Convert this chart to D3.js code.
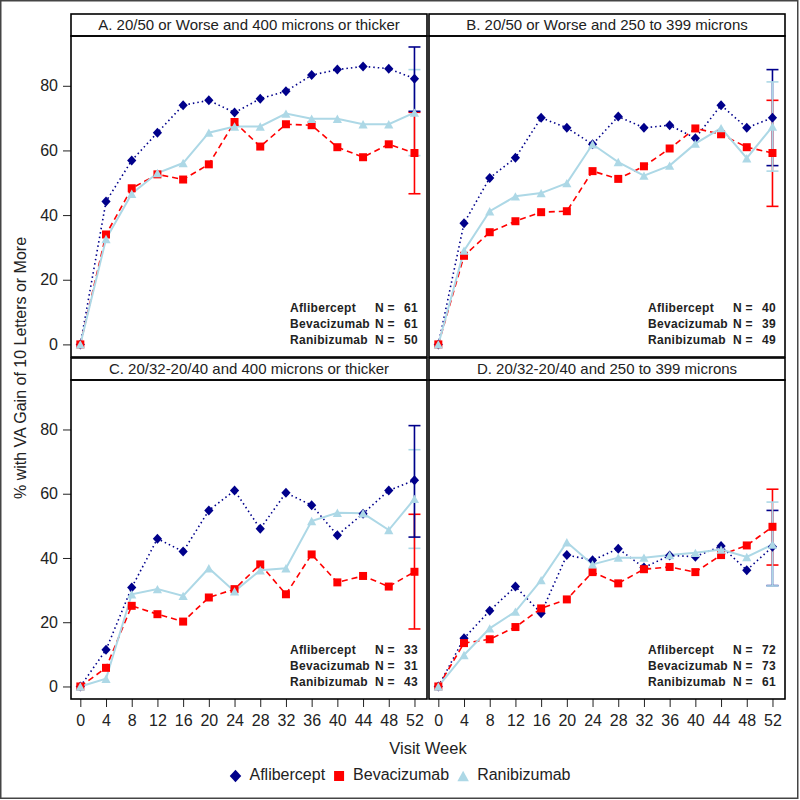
<!DOCTYPE html>
<html><head><meta charset="utf-8">
<script src="https://cdn.jsdelivr.net/npm/d3@7"></script>
<style>body{margin:0;background:#fff} svg{display:block;font-family:"Liberation Sans",Arial,sans-serif}</style>
</head><body><svg id="chart" width="800" height="800"></svg>
<script>
// ---------------- data ----------------
const weeks = [0,4,8,12,16,20,24,28,32,36,40,44,48,52];
const yTicks = [0,20,40,60,80];
const seriesNames = ["Aflibercept","Bevacizumab","Ranibizumab"];
const panelTitles = [
  "A. 20/50 or Worse and 400 microns or thicker",
  "B. 20/50 or Worse and 250 to 399 microns",
  "C. 20/32-20/40 and 400 microns or thicker",
  "D. 20/32-20/40 and 250 to 399 microns"
];
const panelN = [[61,61,50],[40,39,49],[33,31,43],[72,73,61]];
// values per panel (A, B, C, D)
const aflibercept = [
  [0,44.2,56.9,65.5,74.0,75.5,71.7,76.0,78.3,83.3,85.0,86.0,85.3,82.2],
  [0,37.5,51.5,57.7,70.1,67.0,61.9,70.5,67.0,67.8,63.8,74.0,67.0,70.1],
  [0,11.4,30.8,46.0,42.0,54.8,61.0,49.1,60.3,56.4,47.1,53.8,61.0,64.2],
  [0,15.0,23.6,31.1,22.8,40.9,39.3,42.9,37.0,40.8,40.4,43.7,36.2,43.5]
];
const bevacizumab = [
  [0,34.0,48.3,52.6,51.0,55.7,68.8,61.2,68.1,67.8,61.0,57.9,61.9,59.2],
  [0,27.4,34.7,38.1,40.9,41.2,53.6,51.2,55.1,60.6,66.8,65.0,61.0,59.2],
  [0,5.8,25.1,22.5,20.2,27.7,30.3,38.0,28.7,41.1,32.4,34.4,31.1,35.7],
  [0,13.5,14.7,18.5,24.3,27.1,35.6,32.1,36.5,37.2,35.6,40.9,43.9,49.7]
];
const ranibizumab = [
  [0,32.6,46.6,53.0,56.1,65.5,67.4,67.4,71.4,69.8,69.8,68.1,68.1,71.7],
  [0,29.0,41.2,45.8,46.8,49.9,61.9,56.4,52.2,55.3,62.1,66.9,57.6,67.4],
  [0,2.4,28.7,30.3,28.2,36.8,29.6,36.2,36.8,51.5,54.1,53.9,48.7,58.4],
  [0,9.8,18.1,23.3,33.1,44.9,38.0,40.1,40.1,40.9,41.6,42.6,40.3,44.2]
];
// week-52 confidence intervals [low, high] per panel
const afliberceptCI = [[72.1,92.0],[55.3,85.0],[46.5,81.2],[31.4,54.8]];
const bevacizumabCI = [[46.6,71.8],[42.7,75.5],[17.9,53.6],[37.8,61.4]];
const ranibizumabCI = [[58.4,85.0],[53.6,81.2],[43.0,73.7],[31.3,57.4]];

const seriesValues = [aflibercept, bevacizumab, ranibizumab];
const seriesCI = [afliberceptCI, bevacizumabCI, ranibizumabCI];
const colors = ["#00008B","#FF0000","#ADD8E6"];
const dashes = ["1.5,3","6,4",null];
const lineWidths = [1.6,1.6,2];
const errorBarOrder = [[2,1,0],[0,1,2],[2,1,0],[0,1,2]];

// ---------------- layout ----------------
const svg = d3.select("#chart");
const textColor = "#222";
const cols = [[71,427],[429,785]];
const rows = [{hTop:14, top:36, bottom:357},{hTop:358, top:380, bottom:699}];
const yDomain = [-3.9, 95.4];
const xDomain = [-1.45, 53.95];

function markerPath(k, s) {
  s = s || 1;
  if (k === 0) { const w=4.6*s, h=5*s; return `M0,${-h}L${w},0L0,${h}L${-w},0Z`; }
  if (k === 1) { const a=4*s; return `M${-a},${-a}H${a}V${a}H${-a}Z`; }
  const w=4.6*s, h=4.2*s; return `M0,${-h}L${w},${h}L${-w},${h}Z`;
}

svg.append("rect").attr("x",0.75).attr("y",0.75).attr("width",797).attr("height",797.5)
  .attr("fill","none").attr("stroke","#444").attr("stroke-width",1.5);

panelTitles.forEach((title, p) => {
  const c = cols[p % 2], r = rows[Math.floor(p / 2)];
  const x = d3.scaleLinear().domain(xDomain).range(c);
  const y = d3.scaleLinear().domain(yDomain).range([r.bottom, r.top]);
  const g = svg.append("g");

  // header
  g.append("rect").attr("x",c[0]).attr("y",r.hTop).attr("width",c[1]-c[0]).attr("height",r.top-r.hTop)
    .attr("fill","#fff").attr("stroke","#000").attr("stroke-width",1.6);
  g.append("text").attr("x",(c[0]+c[1])/2).attr("y",(r.hTop+r.top)/2+1)
    .attr("text-anchor","middle").attr("dominant-baseline","middle")
    .attr("font-size",15).attr("fill",textColor).text(title);

  // y axis
  if (p % 2 === 0) {
    const ay = g.append("g").attr("transform",`translate(${c[0]},0)`)
      .call(d3.axisLeft(y).tickValues(yTicks).tickSize(8).tickPadding(5));
    ay.select(".domain").remove();
    ay.selectAll("line").attr("stroke","#222");
    ay.selectAll("text").attr("font-size",16).attr("fill",textColor).attr("font-family",null);
  }
  // x axis
  if (p >= 2) {
    const ax = g.append("g").attr("transform",`translate(0,${r.bottom})`)
      .call(d3.axisBottom(x).tickValues(weeks).tickSize(8).tickPadding(8));
    ax.select(".domain").remove();
    ax.selectAll("line").attr("stroke","#222");
    ax.selectAll("text").attr("font-size",16).attr("fill",textColor).attr("font-family",null);
  }

  // series lines
  seriesValues.forEach((vals, k) => {
    const data = weeks.map((w, i) => ({w, v: vals[p][i]}));
    g.append("path").datum(data)
      .attr("d", d3.line().x(d => x(d.w)).y(d => y(d.v)))
      .attr("fill","none").attr("stroke",colors[k]).attr("stroke-width",lineWidths[k])
      .attr("stroke-dasharray",dashes[k]);
  });
  // error bars at week 52
  errorBarOrder[p].forEach(k => {
    const ci = seriesCI[k][p];
    const xx = x(52);
    const eb = g.append("g").attr("stroke",colors[k]).attr("stroke-width",1.6);
    eb.append("line").attr("x1",xx).attr("x2",xx).attr("y1",y(ci[0])).attr("y2",y(ci[1]));
    ci.forEach(v => eb.append("line").attr("x1",xx-6).attr("x2",xx+6).attr("y1",y(v)).attr("y2",y(v)));
  });
  // markers
  seriesValues.forEach((vals, k) => {
    g.append("g").selectAll("path").data(weeks.map((w, i) => ({w, v: vals[p][i]})))
      .join("path").attr("transform", d => `translate(${x(d.w)},${y(d.v)})`)
      .attr("d", markerPath(k)).attr("fill",colors[k]);
  });

  // plot frame
  g.append("rect").attr("x",c[0]).attr("y",r.top).attr("width",c[1]-c[0]).attr("height",r.bottom-r.top)
    .attr("fill","none").attr("stroke","#000").attr("stroke-width",1.6);

  // N inset
  seriesNames.forEach((name, k) => {
    const ty = r.bottom - 48 + 16*k;
    const t = g.append("g").attr("font-size",12).attr("font-weight","bold").attr("fill","#222")
      .attr("letter-spacing","0.3px");
    t.append("text").attr("x",c[1]-137).attr("y",ty).attr("dominant-baseline","middle").text(name);
    t.append("text").attr("x",c[1]-52).attr("y",ty).attr("dominant-baseline","middle").text("N =");
    t.append("text").attr("x",c[1]-9).attr("y",ty).attr("dominant-baseline","middle")
      .attr("text-anchor","end").text(panelN[p][k]);
  });
});

// axis titles
svg.append("text").attr("transform","translate(22,368) rotate(-90)")
  .attr("text-anchor","middle").attr("dominant-baseline","middle")
  .attr("font-size",16).attr("fill",textColor).text("% with VA Gain of 10 Letters or More");
svg.append("text").attr("x",428).attr("y",750).attr("text-anchor","middle").attr("dominant-baseline","middle")
  .attr("font-size",16.5).attr("fill",textColor).text("Visit Week");

// bottom legend
const leg = svg.append("g");
let lx = 0;
const gap = 8;
seriesNames.forEach((name, k) => {
  const it = leg.append("g");
  it.append("path").attr("d", markerPath(k, 1.25)).attr("fill",colors[k]).attr("transform","translate(6,0)");
  const tx = it.append("text").attr("x",20).attr("dominant-baseline","middle")
    .attr("font-size",16).attr("fill",textColor).text(name);
  const w = 20 + tx.node().getComputedTextLength();
  it.attr("transform",`translate(${lx},0)`);
  lx += w + gap;
});
const totalW = lx - gap;
leg.attr("transform",`translate(${400 - totalW/2},776)`);
</script></body></html>
